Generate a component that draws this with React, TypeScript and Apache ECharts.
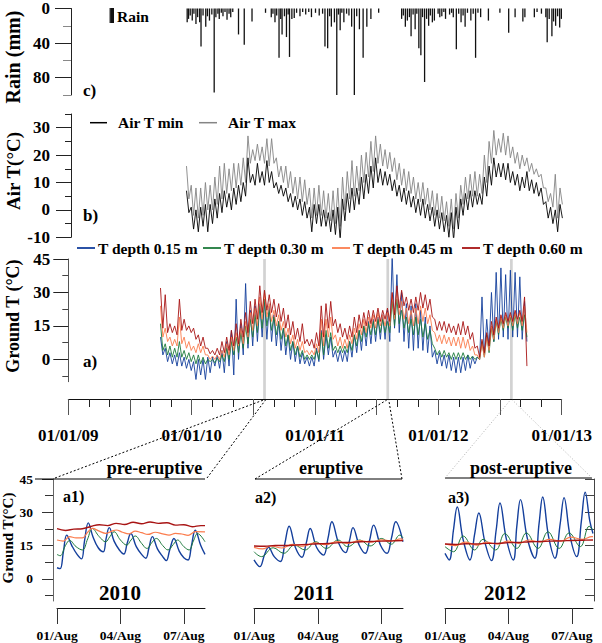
import React, { useEffect, useRef } from 'react';
import * as echarts from 'echarts';

const FONT = '"Liberation Serif", "Times New Roman", serif';
const MS_DAY = 86400000;
const T0 = Date.UTC(2009, 0, 1);
const toDay = (s: string) => (Date.parse(s + 'T00:00:00Z') - T0) / MS_DAY;
const AXIS_END = 1461; // 01/01/13 in days after 01/01/09

// ---------- colours ----------
const C15 = '#143f9c';
const C30 = '#1d7a3c';
const C45 = '#fb7d4e';
const C60 = '#a81414';

// ---------- rain (c) ----------
const rainDates = [
  '2009-12-19','2009-12-23','2009-12-28','2010-01-03','2010-01-08','2010-01-14','2010-01-19','2010-01-25','2010-01-29','2010-02-04',
  '2010-02-12','2010-02-17','2010-02-23','2010-03-02','2010-03-09','2010-03-14','2010-03-20','2010-03-24','2010-03-30','2010-04-04',
  '2010-04-10','2010-04-16','2010-04-22','2010-04-27','2010-05-03','2010-05-20','2010-06-06','2010-06-29','2010-08-08','2010-08-25',
  '2010-08-30','2010-09-05','2010-09-10','2010-09-17','2010-09-22','2010-09-26','2010-10-03','2010-10-09','2010-10-14','2010-10-18',
  '2010-10-25','2010-11-01','2010-11-08','2010-11-18','2010-11-26','2010-12-05','2010-12-14','2010-12-22','2011-01-03','2011-01-14',
  '2011-01-24','2011-01-31','2011-02-08','2011-02-14','2011-02-19','2011-02-28','2011-03-07','2011-03-12','2011-03-17','2011-03-22',
  '2011-03-28','2011-04-05','2011-04-12','2011-04-20','2011-04-28','2011-05-05','2011-05-13','2011-05-24','2011-06-04','2011-06-16',
  '2011-07-09','2011-09-15','2011-09-20','2011-09-26','2011-10-02','2011-10-08','2011-10-13','2011-10-19','2011-10-25','2011-10-30',
  '2011-11-05','2011-11-11','2011-11-16','2011-11-22','2011-11-28','2011-12-04','2011-12-09','2011-12-15','2011-12-21','2012-01-01',
  '2012-01-06','2012-01-12','2012-01-18','2012-01-23','2012-02-04','2012-02-10','2012-02-15','2012-02-24','2012-03-02','2012-03-09',
  '2012-03-15','2012-03-21','2012-03-28','2012-04-07','2012-04-14','2012-04-21','2012-04-28','2012-05-06','2012-05-29','2012-07-02',
  '2012-07-28','2012-08-16','2012-09-08','2012-09-14','2012-10-12','2012-10-20','2012-11-02','2012-11-15','2012-11-19','2012-11-25',
  '2012-12-03','2012-12-08','2012-12-14','2012-12-20','2012-12-26','2012-12-31'
];
const rainMm = [
  16,12,8,14,6,18,10,16,44,8,
  21,9,14,7,97,10,6,12,5,9,
  4,13,6,10,4,30,42,15,5,10,
  6,16,8,57,12,30,9,33,7,56,
  12,11,5,9,4,7,4,10,5,8,
  6,44,46,9,21,16,100,7,25,5,
  16,6,8,21,100,9,24,57,21,12,
  5,12,8,21,14,10,32,7,24,6,
  46,54,10,85,12,20,8,16,14,6,
  10,9,4,12,7,5,10,47,6,16,
  8,21,5,14,6,57,5,10,14,5,
  28,10,15,10,10,4,6,10,39,12,
  32,15,20,9,22,12
];

// ---------- air temperature (b), 14-day steps, upper / lower envelope ----------
const airStart = '2009-12-17';
const airMaxHi = [16,9,8,8,10,9,12,16,17,15,17,17,19,27,22,24,23,26,26,19,16,16,14,12,12,11,8,8,9,7,6,7,8,12,14,18,16,20,21,25,27,24,22,21,19,17,15,14,12,10,10,8,7,6,5,3,4,6,9,12,13,14,13,20,25,29,26,28,27,23,21,20,19,17,15,13,8,6,13,8];
const airMaxLo = [4,-2,-3,-2,0,0,2,4,6,7,8,9,10,17,18,18,17,16,17,12,10,8,6,4,3,2,-3,-2,-2,-3,-4,-5,-6,0,4,5,7,10,12,14,17,16,15,14,11,9,7,6,4,3,2,0,-2,-3,-4,-6,-7,-3,2,4,5,5,6,10,17,20,21,20,19,17,15,16,14,13,12,8,3,1,-3,2];
const airMinHi = [7,1,0,1,2,2,4,6,7,6,8,9,10,19,13,17,14,18,14,10,9,8,6,5,4,3,1,2,2,0,-1,0,1,4,6,8,8,12,13,16,19,15,14,13,11,9,8,7,5,4,4,2,1,0,-1,-2,-1,1,4,6,7,7,6,12,16,19,17,17,17,14,13,12,14,11,10,8,3,1,0,2];
const airMinLo = [-1,-7,-8,-6,-8,-5,-3,-1,1,0,2,3,5,10,9,10,9,10,8,6,5,3,1,0,-2,-3,-8,-5,-6,-6,-8,-9,-11,-4,-1,0,2,4,6,8,10,9,9,7,5,3,2,1,-1,-2,-3,-4,-6,-7,-8,-10,-11,-7,-2,0,1,2,2,5,9,12,12,11,10,9,7,8,7,6,5,2,-3,-5,-8,-3];

// ---------- ground temperature (a), 14-day steps, upper / lower envelope ----------
const groundStart = '2009-10-01';
const t15Hi = [10,5,3,2,3,1,0,-1,0,0,1,1,2,4,8,13,27,16,34,22,24,25,27,24,20,17,14,11,8,6,3,1,1,5,13,11,10,4,4,4,8,11,13,15,17,18,19,20,22,47,38,30,25,24,25,22,19,15,4,3,2,2,1,1,1,2,1,1,28,18,30,39,41,38,40,39,37,26];
const t15Lo = [2,-1,-2,-3,-3,-4,-5,-9,-7,-9,-6,-3,-4,-6,-3,-7,0,2,5,6,8,10,9,8,6,4,2,0,-1,-2,-2,-3,-3,-1,0,2,1,-1,-1,-1,1,3,4,6,7,8,9,9,8,14,12,8,5,4,5,4,3,1,-2,-3,-4,-5,-6,-6,-5,-4,-2,0,2,5,8,9,10,9,10,10,9,8];
const t30Hi = [16,7,6,5,8,4,3,2,2,1,0,0,0.5,2,5,8,10,12,15,18,20,24,27,22,19,17,14,11,8,6,4,2,2,4,12,13,12,6,6,6,8,11,13,15,16,17,18,18,17,26,27,22,19,18,19,18,16,13,5,4,4,3,3,3,3,2,1.5,1,8,11,14,17,18,19,19,20,19,20];
const t30Lo = [4,2,1,1,1,0,-1,-2,-2,-2,-1,-1.5,-1,-1,0,2,3,5,7,10,12,14,15,13,11,9,6,4,2,1,0,0,0,0,2,5,4,3,3,3,4,6,8,10,11,11,12,12,12,15,16,14,12,11,11,10,9,7,2,1,1,0,0,0,0,0,0,0,1,3,8,11,13,14,13,14,13,10];
const t45Hi = [24,14,10,9,19,10,8,6,7,6,2,1.5,2,4,7,10,12,14,17,21,23,28,30,25,22,20,17,14,11,9,8,4,4,7,18,18,19,11,10,9,11,14,16,18,19,20,21,20,21,29,31,26,23,22,23,24,23,20,12,11,11,10,10,10,10,9,6,2,7,10,15,18,19,20,20,21,21,24];
const t45Lo = [10,8,6,6,7,5,4,3,3,2,0,0,0,1,2,4,6,7,10,13,15,18,19,17,15,13,10,7,5,4,3,2,2,3,6,10,9,6,5,5,7,9,11,12,14,14,15,15,15,18,20,18,16,15,16,17,16,13,8,7,7,6,6,5,5,4,2,0,1,4,9,12,14,15,15,16,15,12];
const t60Hi = [32,29,16,15,27,18,15,14,11,10,5,4,5,8,10,13,16,18,21,26,27,33,31,29,27,25,23,20,17,14,16,9,9,12,24,25,26,18,16,14,15,19,20,21,22,22,23,22,23,30,33,31,28,27,28,30,29,27,18,17,17,16,15,16,17,15,12,6,9,12,17,19,20,21,21,22,22,28];
const t60Lo = [14,12,12,11,13,13,12,9,6,5,2.5,2,2,3,4,6,7,10,12,16,18,21,22,21,19,17,14,11,9,8,7,6,5,6,10,14,15,12,10,9,10,12,14,15,16,17,17,18,17,20,23,24,22,21,22,23,22,19,13,13,12,12,11,11,11,9,5,1,3,6,11,14,16,17,17,18,17,-3];

// ---------- highlighted weeks ----------
const bandStarts = ['2010-08-01', '2011-08-01', '2012-08-01'];
const bandEnds = ['2010-08-09', '2011-08-09', '2012-08-09'];

// ---------- insets: [day after 01/Aug, T] ----------
const a1Blue = [[0,5],[0.15,4.6],[0.3,12],[0.46,19.7],[0.7,15],[0.95,11],[1.16,9],[1.3,17],[1.48,25.2],[1.7,19],[1.95,14],[2.19,12.2],[2.32,18],[2.47,23.1],[2.7,17],[2.95,13],[3.16,11.2],[3.32,16],[3.49,20.4],[3.75,14.5],[4,11],[4.2,9.3],[4.35,14],[4.51,19],[4.75,13.5],[5,10],[5.17,8.2],[5.33,13],[5.53,18.2],[5.78,12.5],[6,9.5],[6.2,8.5],[6.36,15],[6.54,21.9],[6.8,15],[7,11]];
const a1Green = [[0,11],[0.15,10.4],[0.4,15],[0.6,17.3],[0.9,14.5],[1.2,13],[1.45,18],[1.67,22.7],[2,19],[2.3,16.7],[2.5,19],[2.7,21.2],[3,17.5],[3.3,15.2],[3.5,17.5],[3.7,19.3],[4,16],[4.25,13.7],[4.5,16.5],[4.7,18.2],[5,15],[5.25,13],[5.5,15.5],[5.7,17.5],[6,14.5],[6.25,13],[6.45,17],[6.65,20.4],[7,16.7]];
const a1Orange = [[0,17.5],[0.3,17],[0.6,19],[0.9,18.5],[1.2,18.5],[1.45,21],[1.67,22.7],[2,21.5],[2.3,20.5],[2.6,21.5],[2.8,22],[3.1,21],[3.4,20.3],[3.7,21.5],[4,20.8],[4.3,20],[4.65,21],[5,20.3],[5.3,19.7],[5.6,20.5],[5.9,20.2],[6.2,19.6],[6.55,21.3],[7,21.2]];
const a1Red = [[0,22.6],[0.4,21.8],[0.8,22.4],[1.2,22.6],[1.6,23.6],[2,24.4],[2.4,24],[2.8,25],[3.2,24.5],[3.6,25.5],[4,24.8],[4.4,25.6],[4.8,25],[5.2,25.3],[5.6,24.2],[6,24.4],[6.4,23.5],[6.8,24],[7,24]];

const a2Blue = [[0,8.5],[0.27,5.5],[0.5,11],[0.68,14.2],[0.95,10],[1.24,7.8],[1.45,16],[1.65,23.7],[1.95,14],[2.25,9.7],[2.45,16],[2.64,22.7],[2.95,14],[3.27,10.7],[3.47,18],[3.66,25.7],[3.98,16],[4.3,11.8],[4.48,17],[4.65,23.1],[4.95,15],[5.23,11.5],[5.42,17],[5.62,24.2],[5.95,15],[6.25,11.5],[6.45,18],[6.66,25.7],[7,16.7]];
const a2Green = [[0,12.2],[0.35,10],[0.9,14],[1.4,11.5],[1.9,15.2],[2.4,13],[2.9,16.7],[3.4,13.7],[3.95,17.5],[4.4,14.5],[4.98,17.5],[5.45,14.8],[6,18.2],[6.45,15.6],[6.85,19.7],[7,18.5]];
const a2Orange = [[0,14.2],[0.4,13.5],[0.8,14.8],[1.3,13.9],[1.8,15.5],[2.3,14.7],[2.85,16.2],[3.35,15.4],[3.9,16.8],[4.4,16],[4.95,17.2],[5.45,16.5],[6,17.6],[6.45,17],[6.9,18],[7,17.8]];
const a2Red = [[0,14.8],[0.5,14.7],[1,15],[1.5,15],[2,15.3],[2.5,15.5],[3,15.8],[3.5,15.9],[4,16.3],[4.5,16.4],[5,16.7],[5.5,16.8],[6,17],[6.5,17.1],[7,17.2]];

const a3Blue = [[0,11.5],[0.2,8.5],[0.4,22],[0.58,32.4],[0.85,18],[1.18,8.5],[1.4,20],[1.6,29.7],[1.9,16],[2.2,8.2],[2.42,22],[2.6,34.2],[2.9,18],[3.23,8.5],[3.4,24],[3.57,35.7],[3.9,18],[4.25,9.3],[4.45,25],[4.62,36.9],[4.9,19],[5.2,9.3],[5.45,25],[5.63,36.6],[5.92,19],[6.23,10],[6.45,26],[6.63,39.1],[6.85,26],[7,20.4]];
const a3Green = [[0,14.5],[0.4,12.2],[0.86,19.3],[1.4,13],[1.8,17.8],[2.4,13],[2.83,20.4],[3.4,13.7],[3.85,20.7],[4.4,13.7],[4.87,21.2],[5.4,13.7],[5.87,20.7],[6.4,14.5],[6.82,23.7],[7,22]];
const a3Orange = [[0,15.7],[0.5,15],[0.95,16.5],[1.5,15.2],[1.95,16.5],[2.5,15.6],[2.95,17],[3.5,16],[3.95,17.5],[4.5,16.6],[4.95,17.8],[5.5,17],[5.95,18.8],[6.5,17.8],[6.95,19],[7,19]];
const a3Red = [[0,15.7],[0.5,15.5],[1,15.8],[1.5,15.7],[2,16],[2.5,16],[3,16.3],[3.5,16.4],[4,16.7],[4.5,16.8],[5,17],[5.5,17.1],[6,17.3],[6.5,17.4],[7,17.5]];

// ---------- tick labels ----------
const yearLabels = ['01/01/09', '01/01/10', '01/01/11', '01/01/12', '01/01/13'];
const insetTickDays = [0, 3, 6];
const insetTickLabels = ['01/Aug', '04/Aug', '07/Aug'];
const rainTicks = [0, 40, 80];
const rainMinorTicks = [20, 60, 100];
const airTicks = [-10, 0, 10, 20, 30];
const airMinorTicks = [-5, 5, 15, 25, 35];
const groundTicks = [0, 15, 30, 45];
const groundMinorTicks = [-7.5, 7.5, 22.5, 37.5];

// alternate upper / lower envelope values every 7 days
const zig = (start: string, hi: number[], lo: number[]) => {
  const d0 = toDay(start);
  const out: number[][] = [];
  hi.forEach((h, i) => {
    out.push([d0 + 14 * i, h]);
    out.push([d0 + 14 * i + 7, lo[i]]);
  });
  return out;
};

const bold = (size: number, extra: any = {}) => ({ fontFamily: FONT, fontWeight: 'bold', fontSize: size, color: '#000', ...extra });

const hiddenX = (grid: number, min: number, max: number) => ({
  type: 'value', gridIndex: grid, min, max, show: false, position: 'bottom', splitLine: { show: false },
});

const majorY = (grid: number, min: number, max: number, ticks: number[], opts: any = {}) => ({
  type: 'value', gridIndex: grid, min, max, inverse: !!opts.inverse, offset: opts.offset || 0,
  position: opts.position || 'left',
  splitLine: { show: false },
  axisLine: { show: true, onZero: false, lineStyle: { color: opts.lineColor || '#222', width: 1 } },
  axisTick: { show: true, customValues: ticks, length: opts.tickLen || 15, inside: !!opts.inside, lineStyle: { color: opts.tickColor || '#222' } },
  axisLabel: opts.noLabel ? { show: false } : { show: true, customValues: ticks, margin: opts.margin || 18, ...bold(opts.size || 17) },
});

const minorY = (grid: number, min: number, max: number, ticks: number[], opts: any = {}) => ({
  type: 'value', gridIndex: grid, min, max, inverse: !!opts.inverse, offset: opts.offset || 0,
  position: 'left',
  splitLine: { show: false },
  axisLine: { show: false, onZero: false },
  axisTick: { show: true, customValues: ticks, length: opts.tickLen || 7, lineStyle: { color: opts.tickColor || '#222' } },
  axisLabel: { show: false },
});

const insetX = (grid: number) => ({
  type: 'value', gridIndex: grid, min: 0, max: 7, offset: 7, position: 'bottom',
  splitLine: { show: false },
  axisLine: { show: true, onZero: false, lineStyle: { color: '#111' } },
  axisTick: { show: true, customValues: insetTickDays, length: 16, lineStyle: { color: '#333' } },
  axisLabel: {
    show: true, customValues: insetTickDays, margin: 20, ...bold(13.5),
    formatter: (v: number) => insetTickLabels[insetTickDays.indexOf(Math.round(v))] || '',
  },
});

const line = (x: number, y: number, data: any, color: string, width: number, z: number, smooth: any = false) => ({
  type: 'line', xAxisIndex: x, yAxisIndex: y, data, showSymbol: false, symbol: 'none', smooth,
  lineStyle: { color, width }, z, silent: true, animation: false,
});

const option: any = {
  animation: false,
  textStyle: { fontFamily: FONT },
  grid: [
    { left: 68.3, top: 6, width: 493.4, height: 89 },
    { left: 68.3, top: 114, width: 493.4, height: 123.3 },
    { left: 68.3, top: 259, width: 493.4, height: 122.7 },
    { left: 68.3, top: 259, width: 493.4, height: 140 },
    { left: 57, top: 479, width: 148, height: 122 },
    { left: 254, top: 479, width: 149, height: 122 },
    { left: 445, top: 479, width: 148, height: 122 },
  ],
  xAxis: [
    hiddenX(0, 0, AXIS_END),
    hiddenX(1, 0, AXIS_END),
    {
      type: 'value', gridIndex: 2, min: 0, max: AXIS_END, interval: 60.875, offset: 17.3, position: 'bottom',
      splitLine: { show: false },
      axisLine: { show: true, onZero: false, lineStyle: { color: '#111' } },
      axisTick: { show: true, length: 8, lineStyle: { color: '#222' } },
      axisLabel: { show: false },
    },
    {
      type: 'value', gridIndex: 2, min: 0, max: AXIS_END, interval: 182.625, offset: 17.3, position: 'bottom',
      splitLine: { show: false },
      axisLine: { show: false, onZero: false },
      axisTick: { show: true, length: 16, lineStyle: { color: '#555' } },
      axisLabel: {
        show: true, margin: 28, ...bold(17),
        formatter: (v: number) => {
          const y = v / 365.25;
          if (Math.abs(y - Math.round(y)) > 1e-6) return '';
          return yearLabels[Math.round(y)] || '';
        },
      },
    },
    hiddenX(3, 0, AXIS_END),
    insetX(4),
    insetX(5),
    insetX(6),
  ],
  yAxis: [
    majorY(0, 0, 100, rainTicks, { inverse: true, offset: -2.7, margin: 21, tickLen: 16 }),
    minorY(0, 0, 100, rainMinorTicks, { inverse: true, offset: -2.7, tickLen: 8, tickColor: '#888' }),
    majorY(1, -10, 35, airTicks, { offset: -2.7, margin: 21, tickLen: 15 }),
    minorY(1, -10, 35, airMinorTicks, { offset: -2.7, tickLen: 6 }),
    majorY(2, -10, 45, groundTicks, { margin: 18, tickLen: 15, lineColor: '#555' }),
    minorY(2, -10, 45, groundMinorTicks, { tickLen: 6, tickColor: '#444' }),
    { type: 'value', gridIndex: 3, min: 0, max: 1, show: false, position: 'left', splitLine: { show: false } },
    majorY(4, -10, 45, groundTicks, { offset: 4, margin: 20, tickLen: 11, size: 13.5, lineColor: '#666', tickColor: '#333' }),
    minorY(4, -10, 45, groundMinorTicks, { offset: 4, tickLen: 8, tickColor: '#333' }),
    { type: 'value', gridIndex: 5, min: -10, max: 45, show: false, position: 'left', splitLine: { show: false } },
    majorY(6, -10, 45, [-7.5, 0, 7.5, 15, 22.5, 30, 37.5, 45], { position: 'right', offset: 1, noLabel: true, inside: true, tickLen: 9, lineColor: '#444', tickColor: '#444' }),
  ],
  series: [
    {
      type: 'bar', xAxisIndex: 0, yAxisIndex: 0, barWidth: 1.3, silent: true,
      data: rainDates.map((d, i) => [toDay(d), rainMm[i]]),
      itemStyle: { color: '#111' }, z: 2,
    },
    line(1, 2, zig(airStart, airMaxHi, airMaxLo), '#858585', 0.9, 2),
    line(1, 2, zig(airStart, airMinHi, airMinLo), '#000000', 0.9, 3),
    {
      type: 'line', xAxisIndex: 4, yAxisIndex: 6, data: [[0, 0.5], [1, 0.5]], showSymbol: false, symbol: 'none',
      lineStyle: { opacity: 0 }, silent: true, z: 0,
      markArea: {
        silent: true, itemStyle: { color: '#d2d2d2' },
        data: bandStarts.map((s, i) => [{ xAxis: toDay(s) }, { xAxis: toDay(bandEnds[i]) }]),
      },
    },
    line(2, 4, zig(groundStart, t15Hi, t15Lo), C15, 0.9, 3),
    line(2, 4, zig(groundStart, t30Hi, t30Lo), C30, 0.9, 4),
    line(2, 4, zig(groundStart, t45Hi, t45Lo), C45, 0.9, 5),
    line(2, 4, zig(groundStart, t60Hi, t60Lo), C60, 0.9, 6),
    line(5, 7, a1Blue, C15, 1.4, 3, 0.4),
    line(5, 7, a1Green, C30, 1, 4, 0.4),
    line(5, 7, a1Orange, C45, 1.2, 5, 0.4),
    line(5, 7, a1Red, C60, 1.4, 6, 0.4),
    line(6, 9, a2Blue, C15, 1.4, 3, 0.4),
    line(6, 9, a2Green, C30, 1, 4, 0.4),
    line(6, 9, a2Orange, C45, 1.2, 5, 0.4),
    line(6, 9, a2Red, C60, 1.4, 6, 0.4),
    line(7, 10, a3Blue, C15, 1.4, 3, 0.4),
    line(7, 10, a3Green, C30, 1, 4, 0.4),
    line(7, 10, a3Orange, C45, 1.2, 5, 0.4),
    line(7, 10, a3Red, C60, 1.4, 6, 0.4),
  ],
};

const txt = (x: number, y: number, text: string, size: number, opts: any = {}) => ({
  type: 'text', x, y, rotation: opts.rot || 0, silent: true, z: 20,
  style: {
    text, fontFamily: FONT, fontWeight: 'bold', fontSize: size, fill: opts.fill || '#000',
    textAlign: opts.align || 'left', textVerticalAlign: 'middle',
  },
});
const seg = (x1: number, y1: number, x2: number, y2: number, stroke: string, w: number, dash?: number[]) => ({
  type: 'line', silent: true, z: 20, shape: { x1, y1, x2, y2 },
  style: { stroke, lineWidth: w, lineDash: dash || null },
});

const buildGraphics = (bx: number[]) => {
  const g: any[] = [];
  // axis titles
  g.push(txt(13, 57, 'Rain (mm)', 20, { rot: Math.PI / 2, align: 'center' }));
  g.push(txt(13.5, 171, 'Air T(°C)', 19, { rot: Math.PI / 2, align: 'center' }));
  g.push(txt(12.5, 316, 'Ground T (°C)', 18, { rot: Math.PI / 2, align: 'center' }));
  g.push(txt(8, 538, 'Ground T(°C)', 15, { rot: Math.PI / 2, align: 'center' }));
  // panel letters
  g.push(txt(83, 90, 'c)', 17));
  g.push(txt(83, 215, 'b)', 17));
  g.push(txt(83, 361, 'a)', 17));
  g.push(txt(63, 496, 'a1)', 16));
  g.push(txt(255, 497, 'a2)', 16));
  g.push(txt(448, 497, 'a3)', 16));
  g.push(txt(120, 593, '2010', 21, { align: 'center' }));
  g.push(txt(314, 593, '2011', 21, { align: 'center' }));
  g.push(txt(505, 593, '2012', 21, { align: 'center' }));
  // legends
  g.push({ type: 'rect', silent: true, z: 20, shape: { x: 110, y: 8, width: 4, height: 15 }, style: { fill: '#111' } });
  g.push({ type: 'rect', silent: true, z: 20, shape: { x: 109, y: 8, width: 1.2, height: 15 }, style: { fill: '#999' } });
  g.push(txt(117, 16, 'Rain', 15.5));
  g.push(seg(90, 122.7, 107, 122.7, '#000', 1.5));
  g.push(txt(118, 122.7, 'Air T min', 15.5));
  g.push(seg(199, 122.7, 217, 122.7, '#858585', 1.5));
  g.push(txt(228, 122.7, 'Air T max', 15.5));
  const lg = [
    [77, 'T depth 0.15 m', C15], [203, 'T depth 0.30 m', C30],
    [332, 'T depth 0.45 m', C45], [462, 'T depth 0.60 m', C60],
  ];
  lg.forEach(([x, t, c]: any) => {
    g.push(seg(x, 248, x + 18, 248, c, 1.8));
    g.push(txt(x + 21, 248, t, 15.5));
  });
  // inset headers
  g.push(txt(154.5, 468, 'pre-eruptive', 18, { align: 'center' }));
  g.push(txt(331, 468, 'eruptive', 18, { align: 'center' }));
  g.push(txt(521, 468, 'post-eruptive', 18, { align: 'center' }));
  g.push(seg(35, 479, 205, 479, '#000', 1));
  g.push(seg(255, 479, 402, 479, '#000', 1));
  g.push(seg(445, 478, 592, 478, '#000', 1));
  // connectors from the highlighted weeks to the insets
  g.push(seg(55, 478, bx[0] - 1, 400, '#000', 1, [2, 2]));
  g.push(seg(207, 478, bx[0] + 1, 400, '#000', 1, [2, 2]));
  g.push(seg(255, 479, bx[1] - 1, 400, '#000', 1, [2, 2]));
  g.push(seg(402, 479, bx[1] + 1, 400, '#000', 1, [2, 2]));
  g.push(seg(445, 478, bx[2] - 1, 400, '#999', 0.8, [1, 2]));
  g.push(seg(592, 478, bx[2] + 1, 400, '#999', 0.8, [1, 2]));
  return g;
};

export default function App() {
  const ref = useRef<HTMLDivElement>(null);
  useEffect(() => {
    document.body.style.margin = '0';
    const chart = echarts.init(ref.current as HTMLDivElement, null, { renderer: 'svg' });
    chart.setOption(option);
    const bx = bandStarts.map((s, i) =>
      chart.convertToPixel({ xAxisIndex: 4 } as any, (toDay(s) + toDay(bandEnds[i])) / 2) as unknown as number
    );
    chart.setOption({ graphic: { elements: buildGraphics(bx) } });
    return () => chart.dispose();
  }, []);
  return <div ref={ref} style={{ width: 602, height: 643 }} />;
}
